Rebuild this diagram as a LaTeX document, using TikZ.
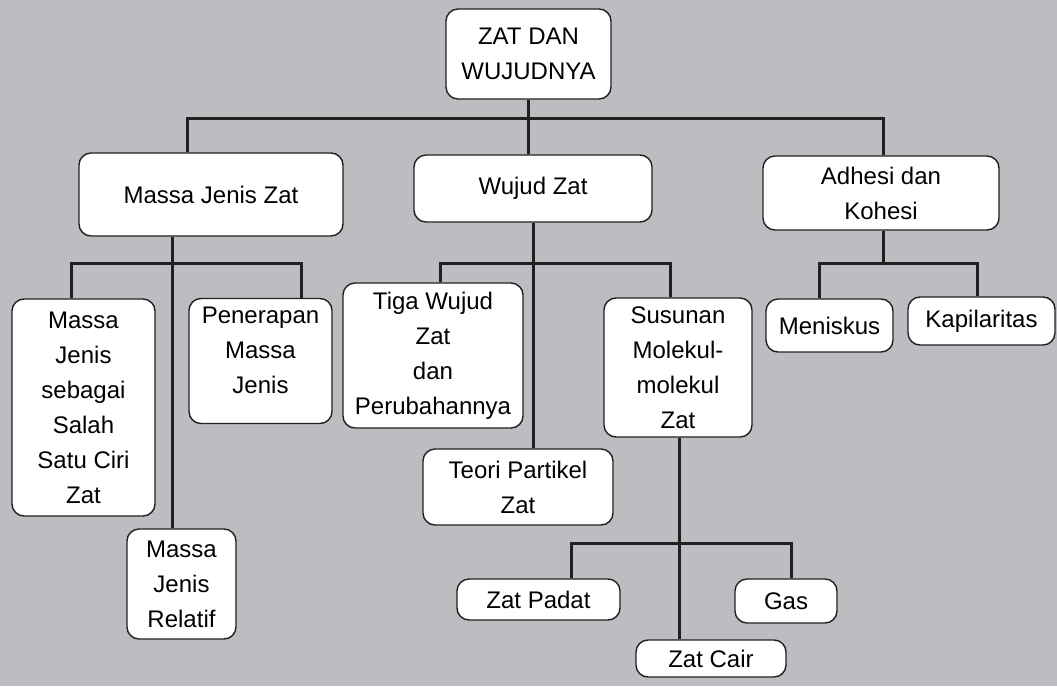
\documentclass[tikz,border=0pt]{standalone}
\usepackage{fontspec}
\setmainfont{Liberation Sans}
\definecolor{ink}{RGB}{35,31,32}
\definecolor{paper}{RGB}{188,189,192}
\begin{document}
\begin{tikzpicture}[x=1pt,y=-1pt,
  box/.style={draw=ink, fill=white, rounded corners=12pt, line width=1.4pt,
    align=center, inner sep=0pt, font=\fontsize{24}{35}\selectfont},
  conn/.style={draw=ink, line width=3pt}]
\useasboundingbox (0,0) rectangle (1057,686);
\fill[paper] (0,0) rectangle (1057,686);

% bus levels
\coordinate (bus0) at (0,118);
\coordinate (bus1) at (0,263);
\coordinate (bus2) at (0,543);

% boxes
\node[box, minimum width=165pt, minimum height=90pt] (root) at (528.5,54) {ZAT DAN\\WUJUDNYA};

\node[box, minimum width=264pt, minimum height=83pt] (mjz) at (211,194.5) {Massa Jenis Zat};
\node[box, minimum width=238pt, minimum height=67pt] (wz) at (533,188.5) {Wujud Zat};
\node[box, minimum width=236pt, minimum height=74pt] (adh) at (881,193) {Adhesi dan\\Kohesi};

\node[box, minimum width=143pt, minimum height=217pt] (ms) at (83.5,407.5) {Massa\\Jenis\\sebagai\\Salah\\Satu Ciri\\Zat};
\node[box, minimum width=143pt, minimum height=120pt] (pen) at (260.5,361) {\begin{tabular}{@{}c@{}}Penerapan\\Massa\\Jenis\\[20pt]\end{tabular}};
\node[box, minimum width=109pt, minimum height=110pt] (rel) at (181.5,584) {Massa\\Jenis\\Relatif};

\node[box, minimum width=180pt, minimum height=145pt] (tiga) at (433,355.5) {Tiga Wujud\\Zat\\dan\\Perubahannya};
\node[box, minimum width=148pt, minimum height=139pt] (sus) at (678,367.5) {Susunan\\Molekul-\\molekul\\Zat};
\node[box, minimum width=190pt, minimum height=76pt] (teo) at (518,487) {Teori Partikel\\Zat};

\node[box, minimum width=163pt, minimum height=41pt] (pad) at (538.5,599.5) {Zat Padat};
\node[box, minimum width=102pt, minimum height=44pt] (gas) at (786,601) {Gas};
\node[box, minimum width=150pt, minimum height=37pt] (cair) at (711,658.5) {Zat Cair};

\node[box, minimum width=127pt, minimum height=53pt] (men) at (829.5,325.5) {Meniskus};
\node[box, minimum width=147pt, minimum height=48pt] (kap) at (981.5,321) {Kapilaritas};

% top level
\draw[conn] (root.south) -- (root.south |- wz.north);
\draw[conn] (mjz.north -| 187,0) -- (187,0 |- bus0) -- (883,0 |- bus0) -- (adh.north -| 883,0);

% under Massa Jenis Zat
\draw[conn] (mjz.south -| 172,0) -- (172,0 |- rel.north);
\draw[conn] (ms.north -| 71,0) -- (71,0 |- bus1) -- (301,0 |- bus1) -- (pen.north -| 301,0);

% under Wujud Zat
\draw[conn] (wz.south -| 533,0) -- (533,0 |- teo.north);
\draw[conn] (tiga.north -| 440,0) -- (440,0 |- bus1) -- (670,0 |- bus1) -- (sus.north -| 670,0);

% under Susunan Molekul-molekul Zat
\draw[conn] (sus.south -| 679,0) -- (679,0 |- cair.north);
\draw[conn] (pad.north -| 571,0) -- (571,0 |- bus2) -- (791,0 |- bus2) -- (gas.north -| 791,0);

% under Adhesi dan Kohesi
\draw[conn] (adh.south -| 883,0) -- (883,0 |- bus1);
\draw[conn] (men.north -| 819,0) -- (819,0 |- bus1) -- (977,0 |- bus1) -- (kap.north -| 977,0);
\end{tikzpicture}
\end{document}
